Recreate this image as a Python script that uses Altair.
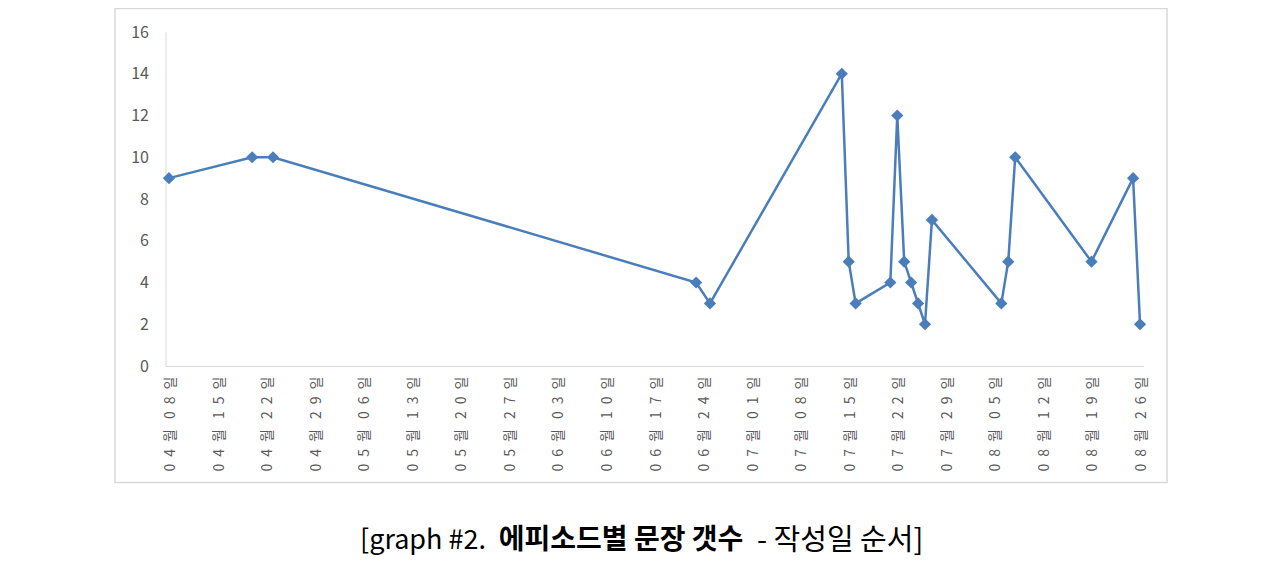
import altair as alt
import pandas as pd

# ---- data ----
dates = ["2015-04-08", "2015-04-20", "2015-04-23", "2015-06-23", "2015-06-25",
         "2015-07-14", "2015-07-15", "2015-07-16", "2015-07-21", "2015-07-22",
         "2015-07-23", "2015-07-24", "2015-07-25", "2015-07-26", "2015-07-27",
         "2015-08-06", "2015-08-07", "2015-08-08", "2015-08-19", "2015-08-25",
         "2015-08-26"]
counts = [9, 10, 10, 4, 3, 14, 5, 3, 4, 12, 5, 4, 3, 2, 7, 3, 5, 10, 5, 9, 2]

tick_dates = ["2015-04-08", "2015-04-15", "2015-04-22", "2015-04-29", "2015-05-06",
              "2015-05-13", "2015-05-20", "2015-05-27", "2015-06-03", "2015-06-10",
              "2015-06-17", "2015-06-24", "2015-07-01", "2015-07-08", "2015-07-15",
              "2015-07-22", "2015-07-29", "2015-08-05", "2015-08-12", "2015-08-19",
              "2015-08-26"]
y_ticks = [0, 2, 4, 6, 8, 10, 12, 14, 16]

caption_1 = "[graph #2."
caption_2 = "에피소드별 문장 갯수"
caption_3 = "- 작성일 순서]"

# ---- derived tables ----
df = pd.DataFrame({"date": dates, "count": counts})
tick_ms = [int(v) for v in (pd.to_datetime(tick_dates).astype("int64") // 10**6)]
half_day = 12 * 3600 * 1000
x_domain = [tick_ms[0] - half_day, tick_ms[-1] + half_day]

W, H = 978, 334
BLUE = "#4A7EBB"
GRAY_TXT = "#595959"
LINE_GRAY = "#D9D9D9"
KFONT = "Noto Sans CJK KR"

SP = "\u2002"          # en space, keeps the wide letter spacing of the original labels
SP2 = "\u2002\u00a0"
label_expr = (
    f"substring(utcFormat(datum.value,'%m'),0,1) + '{SP}' + "
    f"substring(utcFormat(datum.value,'%m'),1,2) + '{SP}월{SP2}' + "
    f"substring(utcFormat(datum.value,'%d'),0,1) + '{SP}' + "
    f"substring(utcFormat(datum.value,'%d'),1,2) + '{SP}일'"
)

x_enc = alt.X(
    "date:T",
    scale=alt.Scale(type="utc", domain=x_domain, nice=False),
    axis=alt.Axis(
        title=None, values=tick_ms, labelExpr=label_expr, labelAngle=270,
        labelAlign="right", labelBaseline="middle", labelPadding=10,
        labelFont=KFONT, labelFontSize=14, labelColor=GRAY_TXT,
        ticks=False, tickSize=0, grid=False, domainColor=LINE_GRAY,
        labelOverlap=False, labelFlush=False, labelOffset=1.5,
    ),
)
y_enc = alt.Y(
    "count:Q",
    scale=alt.Scale(domain=[0, 16], nice=False),
    axis=alt.Axis(
        title=None, values=y_ticks, labelFont=KFONT, labelFontSize=16,
        labelColor=GRAY_TXT, labelPadding=17, ticks=False, tickSize=0,
        grid=False, domainColor=LINE_GRAY,
    ),
)

base = alt.Chart(df)
line = base.mark_line(color=BLUE, strokeWidth=2.5).encode(x=x_enc, y=y_enc)
pts = base.mark_point(shape="diamond", filled=True, size=150, color=BLUE,
                      opacity=1).encode(x=x_enc, y=y_enc)

one = alt.Data(values=[{}])
border = alt.Chart(one).mark_rect(filled=False, stroke=LINE_GRAY, strokeWidth=1.5).encode(
    x=alt.value(-50.5), x2=alt.value(1001.5), y=alt.value(-23.5), y2=alt.value(450.5)
)
cap1 = alt.Chart(one).mark_text(text=caption_1, font=KFONT, fontSize=27, color="#000000",
                                align="right", baseline="middle").encode(
    x=alt.value(320.5), y=alt.value(509))
cap2 = alt.Chart(one).mark_text(text=caption_2, font=KFONT, fontSize=28, fontWeight="bold",
                                color="#000000", align="center", baseline="middle").encode(
    x=alt.value(455.5), y=alt.value(509))
cap3 = alt.Chart(one).mark_text(text=caption_3, font=KFONT, fontSize=29, color="#000000",
                                align="left", baseline="middle").encode(
    x=alt.value(591.5), y=alt.value(509))

chart = alt.layer(border, line, pts, cap1, cap2, cap3).properties(
    width=W, height=H,
    autosize=alt.AutoSizeParams(type="none"),
    padding={"left": 157.5, "top": 24, "right": 128.5, "bottom": 195},
    background="white",
).configure_view(stroke=None)

chart.save("out.html", embed_options={"renderer": "svg", "actions": False})
